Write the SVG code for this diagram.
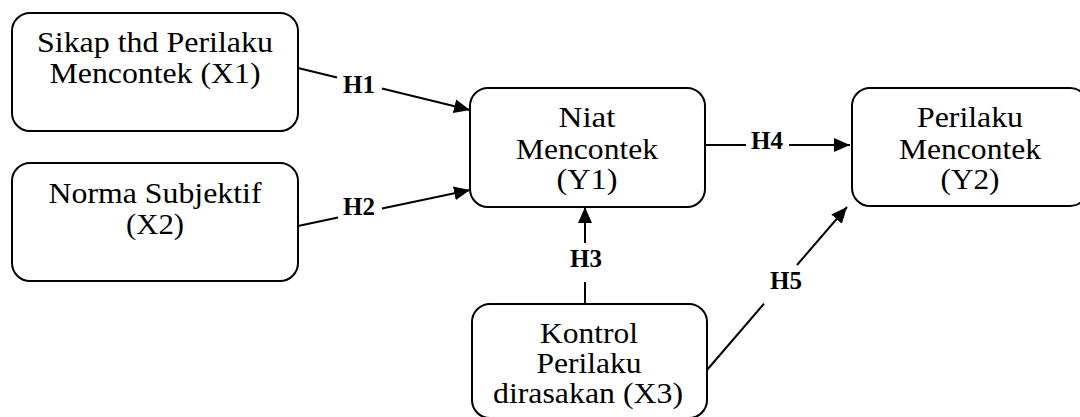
<svg xmlns="http://www.w3.org/2000/svg" width="1080" height="417" viewBox="0 0 1080 417">
<style>
.box{fill:#fff;stroke:#000;stroke-width:2}
.t{font-family:'Liberation Serif','Times New Roman','DejaVu Serif',serif;font-size:30px;fill:#000;text-anchor:middle}
.h{font-family:'Liberation Serif','Times New Roman','DejaVu Serif',serif;font-size:25px;font-weight:bold;fill:#000;text-anchor:middle}
.ln{stroke:#000;stroke-width:2;fill:none}
</style>
<defs>
<marker id="ah" markerWidth="16" markerHeight="14" refX="16" refY="7" orient="auto" markerUnits="userSpaceOnUse">
<path d="M0,0 L16,7 L0,14 Z" fill="#000"/>
</marker>
</defs>
<rect width="1080" height="417" fill="#fff"/>
<g id="connectors">
<line class="ln" x1="298" y1="68" x2="337" y2="77.5"/>
<line class="ln" x1="382" y1="88.5" x2="470" y2="110" marker-end="url(#ah)"/>
<line class="ln" x1="298" y1="226" x2="338" y2="217.6"/>
<line class="ln" x1="382" y1="208.4" x2="470" y2="190" marker-end="url(#ah)"/>
<line class="ln" x1="585" y1="304" x2="585" y2="282"/>
<line class="ln" x1="585" y1="243" x2="585" y2="207" marker-end="url(#ah)"/>
<line class="ln" x1="705" y1="145" x2="746" y2="145"/>
<line class="ln" x1="789" y1="145" x2="850" y2="145" marker-end="url(#ah)"/>
<line class="ln" x1="707" y1="370" x2="764" y2="303.6"/>
<line class="ln" x1="797" y1="265" x2="847" y2="207" marker-end="url(#ah)"/>
<text class="h" x="359" y="93">H1</text>
<text class="h" x="359" y="215">H2</text>
<text class="h" x="586" y="267">H3</text>
<text class="h" x="767" y="149">H4</text>
<text class="h" x="786" y="289">H5</text>
</g>
<g id="X1">
<rect class="box" x="12" y="13" width="286" height="118" rx="18"/>
<text class="t" x="155" y="52" textLength="236" lengthAdjust="spacingAndGlyphs">Sikap thd Perilaku</text>
<text class="t" x="155" y="83" textLength="211" lengthAdjust="spacingAndGlyphs">Mencontek (X1)</text>
</g>
<g id="X2">
<rect class="box" x="12" y="163" width="286" height="118" rx="18"/>
<text class="t" x="155" y="203" textLength="213" lengthAdjust="spacingAndGlyphs">Norma Subjektif</text>
<text class="t" x="155" y="234" textLength="58" lengthAdjust="spacingAndGlyphs">(X2)</text>
</g>
<g id="Y1">
<rect class="box" x="470" y="88" width="235" height="119" rx="18"/>
<text class="t" x="587" y="127" textLength="57" lengthAdjust="spacingAndGlyphs">Niat</text>
<text class="t" x="587" y="159" textLength="142" lengthAdjust="spacingAndGlyphs">Mencontek</text>
<text class="t" x="587" y="189" textLength="61" lengthAdjust="spacingAndGlyphs">(Y1)</text>
</g>
<g id="Y2">
<rect class="box" x="852" y="88" width="236" height="118" rx="18"/>
<text class="t" x="970" y="127" textLength="106" lengthAdjust="spacingAndGlyphs">Perilaku</text>
<text class="t" x="970" y="159" textLength="142" lengthAdjust="spacingAndGlyphs">Mencontek</text>
<text class="t" x="970" y="189" textLength="59" lengthAdjust="spacingAndGlyphs">(Y2)</text>
</g>
<g id="X3">
<rect class="box" x="472" y="304" width="235" height="114" rx="18"/>
<text class="t" x="589" y="343" textLength="98" lengthAdjust="spacingAndGlyphs">Kontrol</text>
<text class="t" x="589" y="373" textLength="105" lengthAdjust="spacingAndGlyphs">Perilaku</text>
<text class="t" x="588" y="403" textLength="190" lengthAdjust="spacingAndGlyphs">dirasakan (X3)</text>
</g>
</svg>
